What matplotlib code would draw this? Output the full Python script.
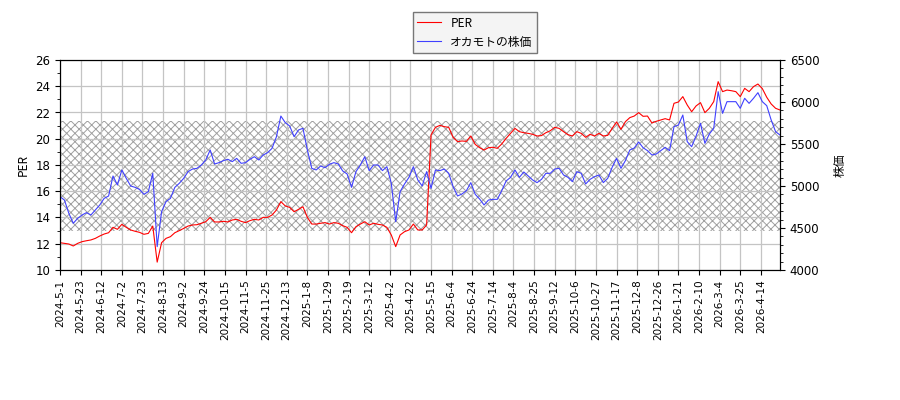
import numpy as np
import matplotlib
matplotlib.use('Agg')
import matplotlib.pyplot as plt
from matplotlib.ticker import MultipleLocator

JP = ['Noto Sans CJK JP', 'DejaVu Sans']
plt.rcParams['hatch.linewidth'] = 0.7

# sampled every 3 trading days starting 2024-5-1
per = [12.08, 12.03, 11.98, 11.83, 12.03, 12.16, 12.23, 12.29, 12.41, 12.59,
       12.74, 12.84, 13.25, 13.10, 13.48, 13.25, 13.05, 12.95, 12.87, 12.72,
       12.79, 13.35, 10.60, 12.08, 12.41, 12.54, 12.84, 13.00, 13.17, 13.35,
       13.43, 13.45, 13.56, 13.68, 14.01, 13.66, 13.66, 13.71, 13.66, 13.81,
       13.86, 13.71,
       13.61, 13.76, 13.86, 13.81, 14.01, 14.01, 14.19, 14.57, 15.21, 14.88,
       14.77, 14.44, 14.62, 14.82, 14.01, 13.50, 13.50, 13.56, 13.61, 13.50,
       13.61, 13.56, 13.38, 13.25, 12.84, 13.30, 13.50, 13.68, 13.43, 13.56,
       13.48, 13.43, 13.25, 12.67, 11.78, 12.67, 12.92, 13.05, 13.50, 13.05,
       13.05,
       13.43, 20.29, 20.87, 21.02, 20.92, 20.87, 20.11, 19.78, 19.83, 19.80,
       20.21, 19.57, 19.32, 19.14, 19.32, 19.35, 19.27, 19.60, 20.03, 20.41,
       20.79, 20.54, 20.46, 20.41, 20.34, 20.21, 20.24, 20.46, 20.61, 20.87,
       20.79, 20.54, 20.31, 20.21, 20.54, 20.41, 20.11, 20.34, 20.21, 20.41,
       20.21,
       20.26, 20.79, 21.28, 20.72, 21.30, 21.61, 21.73, 21.99, 21.71, 21.73,
       21.20, 21.33, 21.43, 21.53, 21.43, 22.70, 22.80, 23.21, 22.57, 22.06,
       22.50, 22.75, 21.99, 22.32, 22.83, 24.35, 23.59, 23.71, 23.66, 23.59,
       23.21, 23.84, 23.59, 23.97, 24.17, 23.82, 23.16, 22.65, 22.32, 22.19]

price = [4873, 4833, 4675, 4556, 4615, 4655, 4683, 4655, 4714, 4774,
         4853, 4881, 5119, 5012, 5191, 5091, 5000, 4984, 4960, 4901,
         4933, 5151, 4278, 4695, 4814, 4853, 4984, 5032, 5091, 5171,
         5202, 5210, 5250, 5310, 5429, 5262, 5278, 5302, 5318, 5290,
         5329, 5270,
         5278, 5317, 5349, 5310, 5369, 5397, 5448, 5587, 5833, 5754,
         5714, 5587, 5667, 5687, 5429, 5210, 5191, 5238, 5218, 5258,
         5278, 5262, 5179, 5143, 4984, 5171, 5250, 5349, 5183, 5250,
         5250, 5183, 5230, 5032, 4575, 4933, 5024, 5103, 5230, 5072,
         5000,
         5171, 4972, 5191, 5183, 5202, 5151, 4992, 4881, 4905, 4944,
         5040, 4901, 4845, 4774, 4833, 4841, 4841, 4944, 5060, 5103,
         5191, 5103, 5167, 5119, 5072, 5040, 5079, 5151, 5151, 5202,
         5210, 5131, 5103, 5052, 5171, 5151, 5024, 5079, 5111, 5131,
         5040,
         5091, 5222, 5329, 5210, 5302, 5429, 5452, 5524, 5456, 5421,
         5369, 5381, 5421, 5460, 5421, 5706, 5726, 5845, 5528, 5468,
         5595, 5746, 5508, 5619, 5687, 6123, 5865, 6004, 6004, 6004,
         5925, 6044, 5984, 6044, 6111, 6004, 5956, 5786, 5647, 5607]

tick_labels = ['2024-5-1', '2024-5-23', '2024-6-12', '2024-7-2', '2024-7-23',
               '2024-8-13', '2024-9-2', '2024-9-24', '2024-10-15', '2024-11-5',
               '2024-11-25', '2024-12-13', '2025-1-8', '2025-1-29', '2025-2-19',
               '2025-3-12', '2025-4-2', '2025-4-22', '2025-5-15', '2025-6-4',
               '2025-6-24', '2025-7-14', '2025-8-4', '2025-8-25', '2025-9-12',
               '2025-10-6', '2025-10-27', '2025-11-17', '2025-12-8', '2025-12-26',
               '2026-1-21', '2026-2-10', '2026-3-4', '2026-3-25', '2026-4-14']

band_low, band_high = 13.0, 21.35

days = np.arange(len(per)) * 3
tick_pos = np.arange(len(tick_labels)) * 14

fig = plt.figure(figsize=(9, 4), dpi=100)
ax = fig.add_axes([60/900, 130/400, 720/900, 210/400])
ax2 = ax.twinx()

ax.axhspan(band_low, band_high, facecolor='none', edgecolor='#a0a0a0',
           hatch='xxxx', linewidth=0, zorder=0)
l1, = ax.plot(days, per, color='#ff0000', lw=0.8, label='PER', zorder=3)
l2, = ax2.plot(days, price, color='#4040ff', lw=0.8, label='オカモトの株価')

ax.set_xlim(0, days[-1])
ax.set_ylim(10, 26)
ax2.set_ylim(4000, 6500)
ax.yaxis.set_major_locator(MultipleLocator(2))
ax.yaxis.set_minor_locator(MultipleLocator(1))
ax2.yaxis.set_major_locator(MultipleLocator(500))
ax2.yaxis.set_minor_locator(MultipleLocator(100))
ax.set_xticks(tick_pos)
ax.set_xticklabels(tick_labels, rotation=90, fontsize=7.5)
ax.tick_params(axis='y', labelsize=8.5)
ax2.tick_params(axis='y', labelsize=8.5)
ax.grid(True, color='#c4c4c4', lw=0.9)
ax.set_axisbelow(True)

ax.set_ylabel('PER', family=JP, fontsize=8.5)
ax2.set_ylabel('株価', family=JP, fontsize=8.5, labelpad=10)

leg = fig.legend([l1, l2], ['PER', 'オカモトの株価'], loc='upper center',
                 bbox_to_anchor=(475/900, 1 - 6/400), fancybox=False,
                 prop={'family': JP, 'size': 8.5}, framealpha=1)
leg.get_frame().set_facecolor('#f4f4f4')
leg.get_frame().set_edgecolor('#777777')

fig.savefig('out.png', dpi=100)
